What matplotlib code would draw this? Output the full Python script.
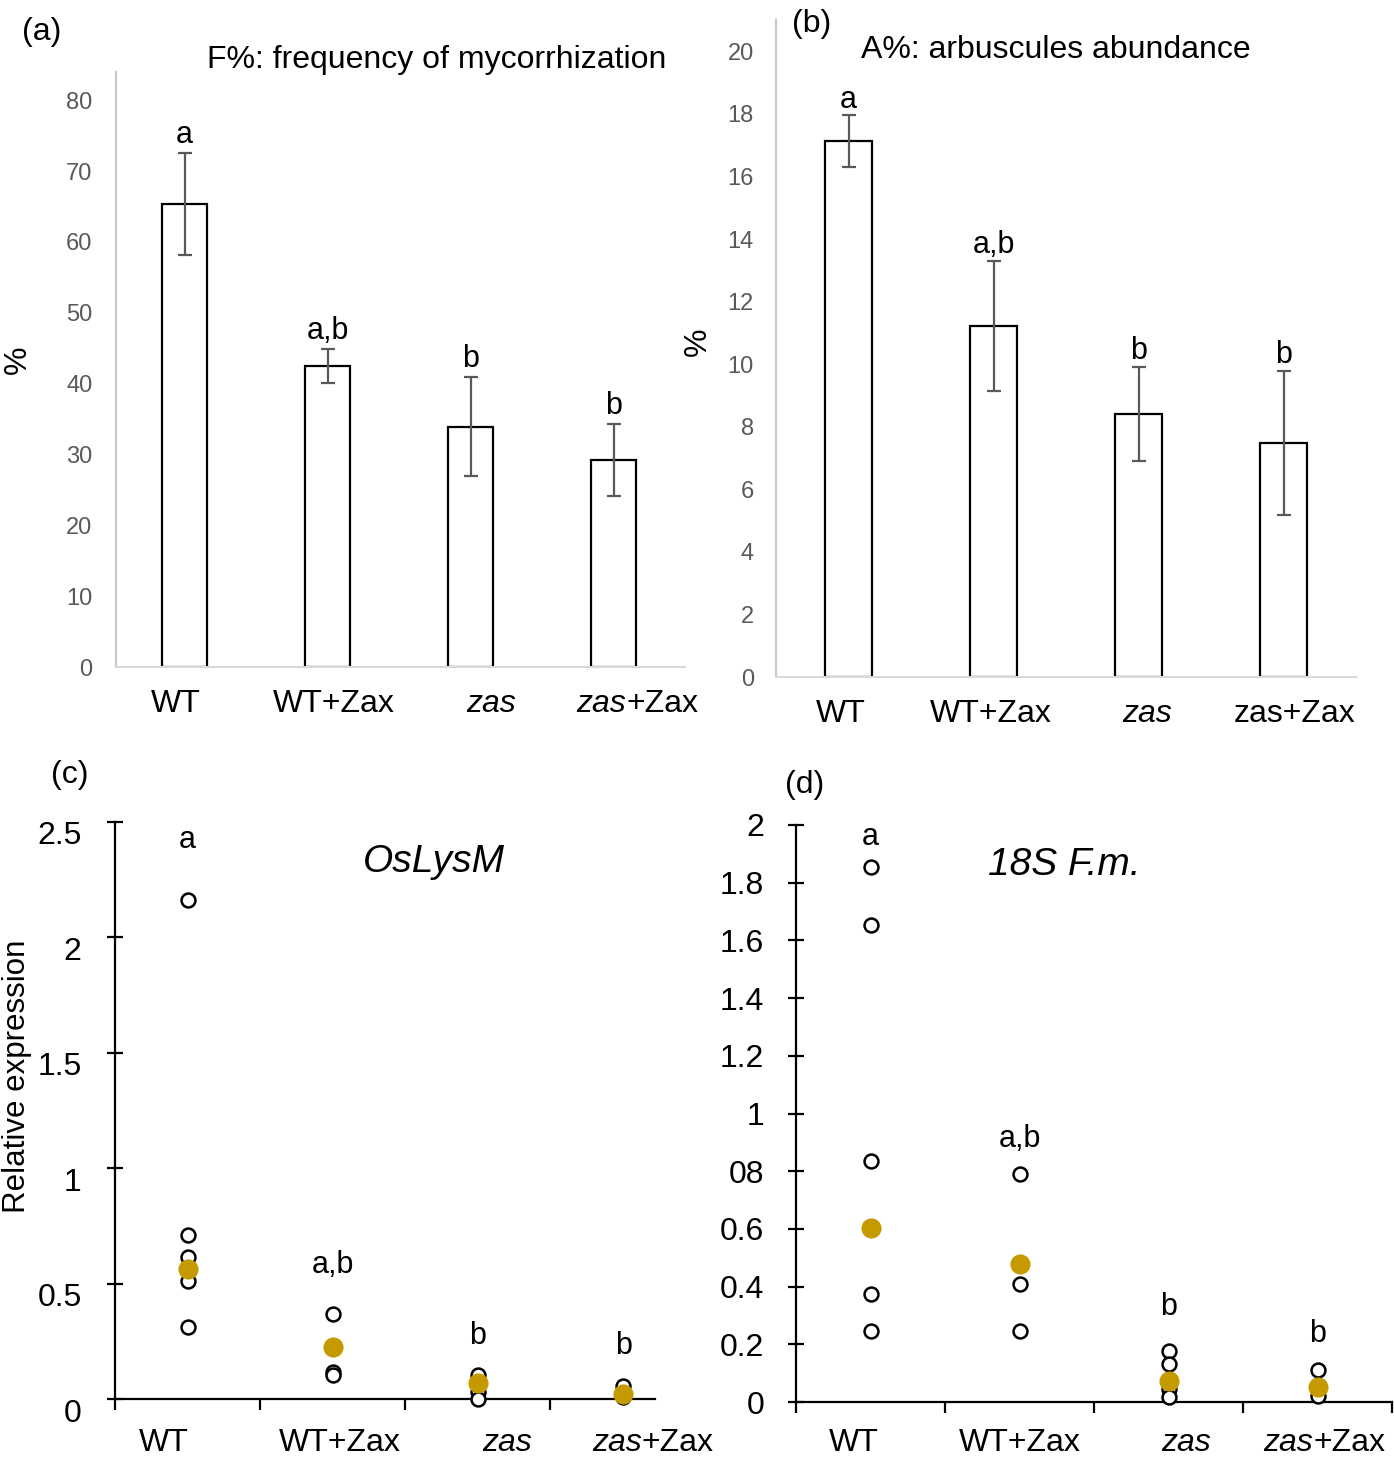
import matplotlib.pyplot as plt
from matplotlib.transforms import ScaledTranslation

plt.rcParams["font.family"] = ["Liberation Sans", "DejaVu Sans"]

GROUPS = ["WT", "WT+Zax", "zas", "zas+Zax"]

# (a) frequency of mycorrhization, mean and error
f_mean = [65.4, 42.5, 33.9, 29.2]
f_err = [7.2, 2.4, 7.0, 5.1]
f_letters = ["a", "a,b", "b", "b"]

# (b) arbuscule abundance
a_mean = [17.12, 11.23, 8.42, 7.49]
a_err = [0.83, 2.08, 1.5, 2.3]
a_letters = ["a", "a,b", "b", "b"]

# (c) OsLysM relative expression, single replicates and summary point
lysm_points = [
    [2.16, 0.71, 0.615, 0.51, 0.31],
    [0.368, 0.117, 0.104],
    [0.104, 0.06, 0.03, 0.0],
    [0.056, 0.017, 0.01],
]
lysm_summary = [0.563, 0.225, 0.07, 0.022]
lysm_letters = ["a", "a,b", "b", "b"]

# (d) 18S F.m. relative expression
fm_points = [
    [1.854, 1.653, 0.835, 0.374, 0.246],
    [0.79, 0.478, 0.409, 0.246],
    [0.177, 0.132, 0.045, 0.017],
    [0.111, 0.021],
]
fm_summary = [0.603, 0.478, 0.073, 0.052]
fm_letters = ["a", "a,b", "b", "b"]

lysm_yticks = [0, 0.5, 1, 1.5, 2, 2.5]
lysm_yticklabels = ["0", "0.5", "1", "1.5", "2", "2.5"]
fm_yticks = [0, 0.2, 0.4, 0.6, 0.8, 1.0, 1.2, 1.4, 1.6, 1.8, 2.0]
fm_yticklabels = ["0", "0.2", "0.4", "0.6", "08", "1", "1.2", "1.4", "1.6", "1.8", "2"]

W, H = 1394, 1462
GOLD = "#c59a00"
GREY_TXT = "#595959"
FS_LABEL = 23


def box(l, t, r, b):
    return [l / W, 1 - b / H, (r - l) / W, (b - t) / H]


def group_labels(ax, y, xs, split, italic_last=True):
    """Category names below the axis; zas is a gene name and set in italics."""
    tr = ax.get_xaxis_transform()
    ax.text(xs[0], y, "WT", fontsize=FS_LABEL, ha="center", va="center", transform=tr)
    ax.text(xs[1], y, "WT+Zax", fontsize=FS_LABEL, ha="center", va="center", transform=tr)
    ax.text(xs[2], y, "zas", fontsize=FS_LABEL, style="italic", ha="center", va="center",
            transform=tr)
    if italic_last:
        ax.text(split, y, "zas", fontsize=FS_LABEL, style="italic", ha="right", va="center",
                transform=tr)
        ax.text(split, y, "+Zax", fontsize=FS_LABEL, ha="left", va="center", transform=tr)
    else:
        ax.text(xs[3], y, "zas+Zax", fontsize=FS_LABEL, ha="center", va="center", transform=tr)


def bar_panel(ax, means, errs, letters, ymax, yticks, letter_gap, pad):
    x = range(len(means))
    ax.bar(x, means, width=0.32, color="white", edgecolor="black", linewidth=1.6, zorder=2)
    ax.errorbar(x, means, yerr=errs, fmt="none", ecolor=GREY_TXT, elinewidth=1.6,
                capsize=5, capthick=1.6, zorder=3)
    for i, (m, e, s) in enumerate(zip(means, errs, letters)):
        ax.text(i, m + e + letter_gap, s, ha="center", va="bottom", fontsize=22)
    ax.set_ylim(0, ymax)
    ax.set_yticks(yticks)
    ax.set_xticks([])
    ax.tick_params(axis="y", length=0, labelsize=17, labelcolor=GREY_TXT, pad=pad)
    for side in ["top", "right"]:
        ax.spines[side].set_visible(False)
    ax.spines["left"].set_color("#c8c8c8")
    ax.spines["left"].set_linewidth(1.5)
    ax.spines["bottom"].set_color("#d9d9d9")
    ax.spines["bottom"].set_linewidth(1.5)


fig = plt.figure(figsize=(W / 100, H / 100), dpi=100)

# panel (a)
ax_a = fig.add_axes(box(116, 72, 685, 667))
bar_panel(ax_a, f_mean, f_err, f_letters, 84, range(0, 81, 10), 0.4, 17)
ax_a.set_xlim(-0.48, 3.5)
group_labels(ax_a, -0.063, [-0.06, 1.04, 2.14, 3.18], 3.09)
fig.text(18 / W, 1 - 360 / H, "%", fontsize=FS_LABEL, rotation=90, ha="center", va="center")
fig.text(437 / W, 1 - 60 / H, "F%: frequency of mycorrhization", fontsize=23,
         ha="center", va="center")
fig.text(42 / W, 1 - 32 / H, "(a)", fontsize=23, ha="center", va="center")

# panel (b)
ax_b = fig.add_axes(box(776, 20, 1356, 677))
bar_panel(ax_b, a_mean, a_err, a_letters, 21.0, range(0, 21, 2), 0.02, 16)
ax_b.set_xlim(-0.5, 3.5)
group_labels(ax_b, -0.056, [-0.05, 0.98, 2.06, 3.08], None, italic_last=False)
fig.text(698 / W, 1 - 342 / H, "%", fontsize=FS_LABEL, rotation=90, ha="center", va="center")
fig.text(1056 / W, 1 - 50 / H, "A%: arbuscules abundance", fontsize=23,
         ha="center", va="center")
fig.text(812 / W, 1 - 24 / H, "(b)", fontsize=23, ha="center", va="center")


def dot_panel(ax, points, summary, letters, letter_y, ymax, yticks, yticklabels, pad):
    for i, vals in enumerate(points):
        ax.plot([i] * len(vals), vals, "o", ms=10, mfc="white", mec="black", mew=1.8,
                linestyle="none", zorder=3, clip_on=False)
    ax.plot(range(len(summary)), summary, "o", ms=13.5, color=GOLD, linestyle="none",
            zorder=4, clip_on=False)
    for i, s in enumerate(letters):
        ax.text(i, letter_y[i], s, ha="center", va="center", fontsize=22)
    ax.set_ylim(0, ymax)
    ax.set_yticks(yticks)
    ax.set_yticklabels(yticklabels)
    ax.set_xticks([-0.5, 0.5, 1.5, 2.5, 3.5])
    ax.set_xticklabels([])
    ax.tick_params(axis="y", direction="inout", length=12, width=1.6, labelsize=23, pad=pad)
    ax.tick_params(axis="x", direction="out", length=8, width=1.6)
    for side in ["top", "right"]:
        ax.spines[side].set_visible(False)
    for side in ["left", "bottom"]:
        ax.spines[side].set_linewidth(1.6)


# panel (c)
ax_c = fig.add_axes(box(115, 822, 655, 1399))
dot_panel(ax_c, lysm_points, lysm_summary, lysm_letters, [2.42, 0.58, 0.275, 0.23],
          2.5, lysm_yticks, lysm_yticklabels, 18)
ax_c.set_xlim(-0.5, 3.22)
# tick labels of this axis sit a little below their ticks
shift = ScaledTranslation(0, -11 / 100, fig.dpi_scale_trans)
for lab in ax_c.get_yticklabels():
    lab.set_transform(lab.get_transform() + shift)
group_labels(ax_c, -0.076, [-0.165, 1.05, 2.2, 3.22], 3.13)
ax_c.text(0.59, 0.93, "OsLysM", transform=ax_c.transAxes, style="italic", fontsize=28,
          ha="center", va="center")
fig.text(17 / W, 1 - 1076 / H, "Relative expression", fontsize=22.5, rotation=90,
         ha="center", va="center")
fig.text(70 / W, 1 - 775 / H, "(c)", fontsize=23, ha="center", va="center")

# panel (d)
ax_d = fig.add_axes(box(796, 825, 1392, 1402))
dot_panel(ax_d, fm_points, fm_summary, fm_letters, [1.96, 0.91, 0.33, 0.235],
          2.0, fm_yticks, fm_yticklabels, 17)
ax_d.set_xlim(-0.5, 3.5)
group_labels(ax_d, -0.071, [-0.11, 1.0, 2.12, 3.06], 2.97)
ax_d.text(0.45, 0.93, "18S F.m.", transform=ax_d.transAxes, style="italic", fontsize=28,
          ha="center", va="center")
fig.text(805 / W, 1 - 785 / H, "(d)", fontsize=23, ha="center", va="center")

fig.savefig("out.png", dpi=100)
